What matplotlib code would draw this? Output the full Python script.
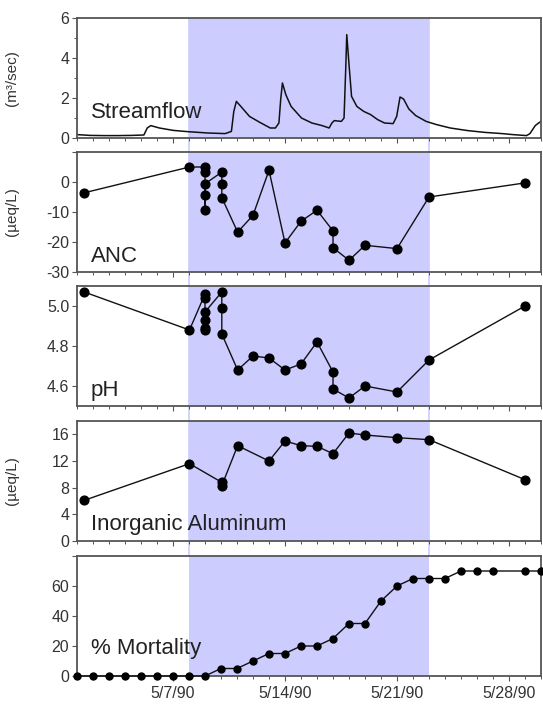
'''
stacked time series: streamflow, ANC, pH, inorganic aluminum and mortality, May 1990.
'''

import matplotlib
matplotlib.use("Agg")
import matplotlib.pyplot as plt

plt.rcParams["font.family"] = ["Liberation Sans", "DejaVu Sans"]

# x values are day of May 1990.
flow_day = [1.0, 1.82, 2.69, 3.55, 4.42, 5.18, 5.39, 5.61, 6.15, 7.02, 7.88, 9.18, 10.26, 10.65,
            10.8, 10.96, 11.24, 11.78, 12.43, 13.08, 13.4, 13.62, 13.73, 13.84, 14.05, 14.38,
            15.03, 15.68, 16.32, 16.76, 16.93, 17.08, 17.52, 17.69, 17.8, 17.86, 18.01, 18.16,
            18.49, 18.92, 19.35, 19.79, 20.22, 20.76, 20.98, 21.19, 21.41, 21.74, 22.17, 22.82,
            23.47, 24.33, 25.42, 26.5, 27.58, 28.23, 29.1, 29.31, 29.64, 29.85, 30.0]
flow_val = [0.17, 0.13, 0.12, 0.12, 0.13, 0.15, 0.50, 0.62, 0.50, 0.38, 0.32, 0.25, 0.22, 0.33,
            1.33, 1.83, 1.58, 1.08, 0.78, 0.50, 0.50, 0.75, 1.92, 2.75, 2.17, 1.58,
            1.00, 0.75, 0.62, 0.50, 0.75, 0.87, 0.83, 1.00, 3.58, 5.17, 3.58, 2.08,
            1.58, 1.33, 1.17, 0.92, 0.75, 0.72, 1.08, 2.05, 1.95, 1.45, 1.12, 0.83,
            0.67, 0.50, 0.37, 0.28, 0.22, 0.17, 0.12, 0.22, 0.62, 0.75, 0.83]

anc_day = [1.45, 8.03, 9.0, 9.0, 9.0, 9.0, 9.0, 10.05, 10.05, 10.05, 11.04, 12.0, 13.0, 14.0,
           15.0, 16.0, 17.0, 17.0, 18.0, 19.0, 21.0, 23.0, 29.0]
anc_val = [-3.6, 5.0, 5.0, 3.3, -4.2, -9.2, -0.6, 3.3, -0.6, -5.2, -16.7, -11.1, 3.9, -20.3,
           -13.1, -9.4, -16.3, -21.9, -26.1, -21.1, -22.2, -5.0, -0.3]

ph_day = [1.45, 8.03, 9.0, 9.0, 9.0, 9.0, 9.0, 9.0, 10.05, 10.05, 10.05, 11.04, 12.0, 13.0,
          14.0, 15.0, 16.0, 17.0, 17.0, 18.0, 19.0, 21.0, 23.0, 29.0]
ph_val = [5.07, 4.88, 5.06, 5.04, 4.93, 4.89, 4.88, 4.97, 5.07, 4.99, 4.86, 4.68, 4.75, 4.74,
          4.68, 4.71, 4.82, 4.67, 4.585, 4.54, 4.60, 4.57, 4.73, 5.00]

al_day = [1.45, 8.03, 10.05, 10.05, 11.04, 13.0, 14.0, 15.0, 16.0, 17.0, 18.0, 19.0, 21.0, 23.0, 29.0]
al_val = [6.1, 11.6, 8.8, 8.3, 14.3, 12.0, 15.0, 14.3, 14.2, 13.1, 16.2, 15.9, 15.5, 15.2, 9.2]

mort_day = [1, 2, 3, 4, 5, 6, 7, 8, 9, 10, 11, 12, 13, 14, 15, 16, 17, 18, 19, 20, 21, 22, 23,
            24, 25, 26, 27, 29, 30]
mort_val = [0, 0, 0, 0, 0, 0, 0, 0, 0, 5, 5, 10, 15, 15, 20, 20, 25, 35, 35, 50, 60, 65, 65,
            65, 70, 70, 70, 70, 70]

episode = (8, 23)
date_ticks = [7, 14, 21, 28]
date_labels = ["5/7/90", "5/14/90", "5/21/90", "5/28/90"]

panels = [
    # label, y label, ylim, y ticks, y tick labels, minor y ticks, text y
    ("Streamflow", "(m\u00b3/sec)", (0, 6), [0, 2, 4, 6], ["0", "2", "4", "6"], [1, 3, 5], 0.21),
    ("ANC", "(\u00b5eq/L)", (-30, 10), [-30, -20, -10, 0, 10], ["-30", "-20", "-10", "0", ""], [], 0.13),
    ("pH", "", (4.5, 5.1), [4.6, 4.8, 5.0], ["4.6", "4.8", "5.0"], [], 0.13),
    ("Inorganic Aluminum", "(\u00b5eq/L)", (0, 18), [0, 4, 8, 12, 16], ["0", "4", "8", "12", "16"], [], 0.14),
    ("% Mortality", "", (0, 80), [0, 20, 40, 60, 80], ["0", "20", "40", "60", ""], [], 0.23),
]

SHADE = "#ccccff"
SPINE = "#555555"
TEXT = "#333333"

fig = plt.figure(figsize=(5.43, 7.09), dpi=100)

left, width = 77 / 543, 464 / 543
height = 120 / 709
bottoms_px = [138, 272, 406, 541, 676]
gap = 14.5 / 120

axes = []
for i, b in enumerate(bottoms_px):
    ax = fig.add_axes([left, (709 - b) / 709, width, height])
    axes.append(ax)

# streamflow trace.
axes[0].plot(flow_day, flow_val, color="#111111", lw=1.1)

# chemistry with markers.
for ax, xs, ys in [(axes[1], anc_day, anc_val), (axes[2], ph_day, ph_val), (axes[3], al_day, al_val)]:
    ax.plot(xs, ys, color="#111111", lw=1.0, marker="o", ms=6.3, mfc="black", mec="black",
            clip_on=False, zorder=3)

axes[4].plot(mort_day, mort_val, color="#111111", lw=1.0, marker="o", ms=5, mfc="black", mec="black",
             clip_on=False, zorder=3)

for i, (ax, (name, ylab, ylim, yt, ytl, ymin_t, ty)) in enumerate(zip(axes, panels)):
    ax.set_xlim(1, 30)
    ax.set_ylim(*ylim)
    ax.axvspan(*episode, color=SHADE, lw=0, zorder=0)
    if i < len(axes) - 1:
        # light border of the episode runs through the gaps between panels.
        for xe in episode:
            ax.axvline(xe, ymin=-gap, ymax=1, color=SHADE, lw=1.2, clip_on=False, zorder=0)

    ax.set_yticks(yt)
    ax.set_yticklabels(ytl)
    if ymin_t:
        ax.set_yticks(ymin_t, minor=True)

    ax.set_xticks(date_ticks)
    ax.set_xticks(range(1, 31), minor=True)
    if i == len(axes) - 1:
        ax.set_xticklabels(date_labels)
    else:
        ax.set_xticklabels([])

    ax.tick_params(axis="both", which="major", direction="out", length=3.5, width=0.8,
                   color=SPINE, labelcolor=TEXT, labelsize=11.5, pad=2)
    ax.tick_params(axis="both", which="minor", direction="out", length=2, width=0.7, color=SPINE)
    ax.tick_params(axis="x", which="major", pad=4)

    for s in ax.spines.values():
        s.set_color(SPINE)
        s.set_linewidth(1.3)

    ax.text(0.03, ty, name, transform=ax.transAxes, fontsize=16, color="#222222", va="center", ha="left")
    if ylab:
        ax.set_ylabel(ylab, fontsize=11, color=TEXT)
        ax.yaxis.set_label_coords(-0.125, 0.5)

plt.savefig("out.png", dpi=100)
